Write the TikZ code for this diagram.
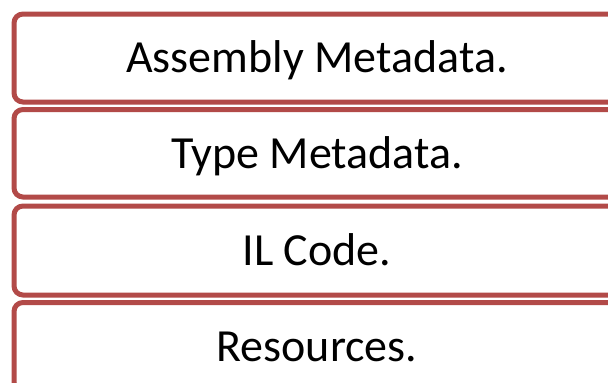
\documentclass[tikz,border=0pt]{standalone}
\usepackage{fontspec}
\setmainfont{Carlito}
\definecolor{boxred}{RGB}{178,74,72}
\begin{document}
\begin{tikzpicture}[x=1pt,y=-1pt,
  layer/.style={draw=boxred, line width=5pt, rounded corners=9pt, fill=white,
    minimum width=606pt, inner sep=0pt, text height=29.6pt, text depth=0pt,
    font=\fontsize{46}{52}\selectfont, text=black}]
\path[use as bounding box, clip] (0,0) rectangle (608,383);
\fill[white] (0,0) rectangle (608,383);
\node[layer, minimum height=88pt] (asm) at (317,58) {Assembly Metadata.};
\node[layer, minimum height=87.5pt] (type) at (317,153.25) {Type Metadata.};
\node[layer, minimum height=89pt] (il) at (317,250.5) {IL Code.};
\node[layer, minimum height=88.5pt] (res) at (317,346.75) {Resources.};
\end{tikzpicture}
\end{document}
